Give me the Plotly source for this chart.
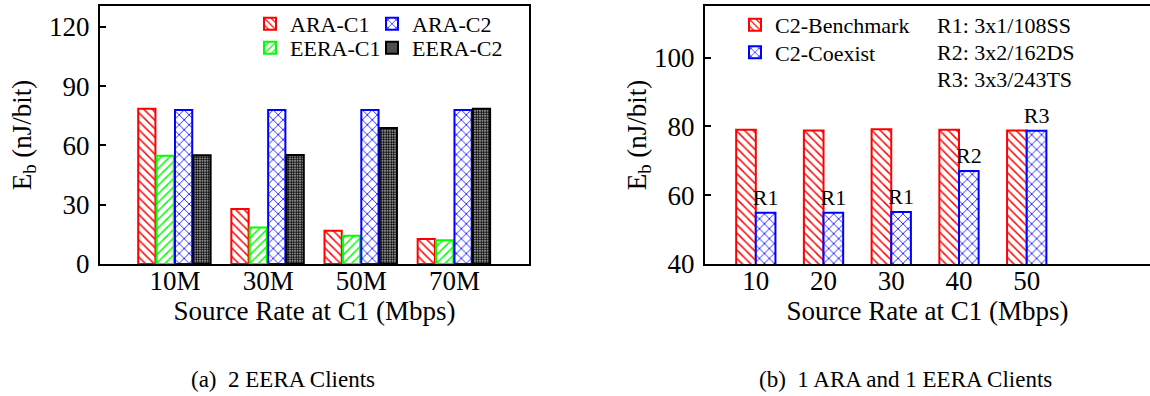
import plotly.graph_objects as go

W, H = 1150, 396
FONT = "Liberation Serif"

# ---------------- data ----------------
# (a) 2 EERA Clients
rates_a = ["10M", "30M", "50M", "70M"]
ara_c1 = [78.5, 27.8, 16.8, 12.6]
eera_c1 = [54.8, 18.5, 14.3, 12.0]
ara_c2 = [77.9, 77.9, 77.9, 77.9]
eera_c2 = [55.0, 55.1, 68.8, 78.5]

# (b) 1 ARA and 1 EERA Clients
rates_b = [10, 20, 30, 40, 50]
c2_benchmark = [79.0, 78.8, 79.2, 79.0, 78.8]
c2_coexist = [54.9, 54.9, 55.1, 67.0, 78.7]
coexist_labels = ["R1", "R1", "R1", "R2", "R3"]
rate_notes = ["R1: 3x1/108SS", "R2: 3x2/162DS", "R3: 3x3/243TS"]

captions = ["(a)  2 EERA Clients", "(b)  1 ARA and 1 EERA Clients"]

# ---------------- helpers ----------------
def px_x(p):
    return p / W

def px_y(p):
    return 1 - p / H

fig = go.Figure()

def pat(shape, color, size, solidity):
    return dict(shape=shape, fgcolor=color, bgcolor="white", size=size,
                solidity=solidity, fillmode="replace")

slot = 0.1975
bw = 0.185
left_series = [
    ("ARA-C1", ara_c1, "#ff0000", "\\", 6, 0.25),
    ("EERA-C1", eera_c1, "#00ff00", "/", 6, 0.25),
    ("ARA-C2", ara_c2, "#0000ff", "x", 7, 0.22),
    ("EERA-C2", eera_c2, "#000000", ".", 2.5, 0.7),
]
for i, (name, vals, col, shp, sz, sol) in enumerate(left_series):
    fig.add_trace(go.Bar(
        x=rates_a, y=vals, name=name, xaxis="x", yaxis="y",
        width=bw, offset=-0.395 + i * slot,
        marker=dict(color="white", line=dict(color=col, width=2),
                    pattern=pat(shp, col, sz, sol)),
        legend="legend" if i == 0 else "legend%d" % (i + 1),
    ))

fig.add_trace(go.Bar(
    x=rates_b, y=c2_benchmark, name="C2-Benchmark", xaxis="x2", yaxis="y2",
    width=2.9, offset=-2.9,
    marker=dict(color="white", line=dict(color="#ff0000", width=2),
                pattern=pat("\\", "#ff0000", 6, 0.25)),
    legend="legend5",
))
fig.add_trace(go.Bar(
    x=rates_b, y=c2_coexist, name="C2-Coexist", xaxis="x2", yaxis="y2",
    width=2.9, offset=0.0,
    marker=dict(color="white", line=dict(color="#0000ff", width=2),
                pattern=pat("x", "#0000ff", 7, 0.22)),
    text=coexist_labels, textposition="outside", constraintext="none",
    textfont=dict(family=FONT, size=22, color="black"), cliponaxis=False,
    legend="legend6",
))

axis_common = dict(showline=True, linecolor="black", linewidth=2, mirror=True,
                   showgrid=False, zeroline=False, automargin=False,
                   tickfont=dict(family=FONT, size=27, color="black"))

y_dom = [px_y(264), px_y(6)]

def leg(xp, yp):
    return dict(x=px_x(xp), y=px_y(yp), xanchor="left", yanchor="middle",
                bgcolor="rgba(0,0,0,0)", font=dict(family=FONT, size=22),
                borderwidth=0)

fig.update_layout(
    width=W, height=H, margin=dict(l=0, r=0, t=0, b=0, autoexpand=False),
    paper_bgcolor="white", plot_bgcolor="white",
    font=dict(family=FONT, color="black"),
    barmode="overlay",
    xaxis=dict(domain=[px_x(100), px_x(529)], anchor="y", range=[-0.805, 3.8],
               type="category", ticks="", ticklabelstandoff=-8,
               title=dict(text="Source Rate at C1 (Mbps)", standoff=0,
                          font=dict(family=FONT, size=27)),
               **axis_common),
    yaxis=dict(domain=y_dom, anchor="x", range=[0, 130.5],
               tickvals=[0, 30, 60, 90, 120], ticks="inside", ticklen=6,
               tickwidth=1.5, tickcolor="black", ticklabelstandoff=3,
               title=dict(text="E<sub>b</sub> (nJ/bit)", standoff=10,
                          font=dict(family=FONT, size=27)),
               **axis_common),
    xaxis2=dict(domain=[px_x(705), 1.0], anchor="y2", range=[2.5, 68.2],
                tickvals=rates_b, ticks="", ticklabelstandoff=-8,
                title=dict(text="Source Rate at C1 (Mbps)", standoff=0,
                           font=dict(family=FONT, size=27)),
                **axis_common),
    yaxis2=dict(domain=y_dom, anchor="x2", range=[40, 115],
                tickvals=[40, 60, 80, 100], ticks="inside", ticklen=6,
                tickwidth=1.5, tickcolor="black", ticklabelstandoff=3,
                title=dict(text="E<sub>b</sub> (nJ/bit)", standoff=0,
                           font=dict(family=FONT, size=27)),
                **axis_common),
    legend=leg(250, 24),
    legend2=leg(250, 48),
    legend3=leg(372, 24),
    legend4=leg(372, 48),
    legend5=leg(735, 25),
    legend6=leg(735, 52.5),
    showlegend=True,
)

annotations = []
for i, t in enumerate(rate_notes):
    annotations.append(dict(text=t, xref="paper", yref="paper",
                            x=px_x(935), y=px_y(25 + i * 27.5),
                            xanchor="left", yanchor="middle", showarrow=False,
                            font=dict(family=FONT, size=22, color="black")))
for cx, t in zip([283, 905], captions):
    annotations.append(dict(text=t, xref="paper", yref="paper",
                            x=px_x(cx), y=px_y(379), xanchor="center",
                            yanchor="middle", showarrow=False,
                            font=dict(family=FONT, size=23, color="black")))
fig.update_layout(annotations=annotations)

fig.write_html("out.html")
